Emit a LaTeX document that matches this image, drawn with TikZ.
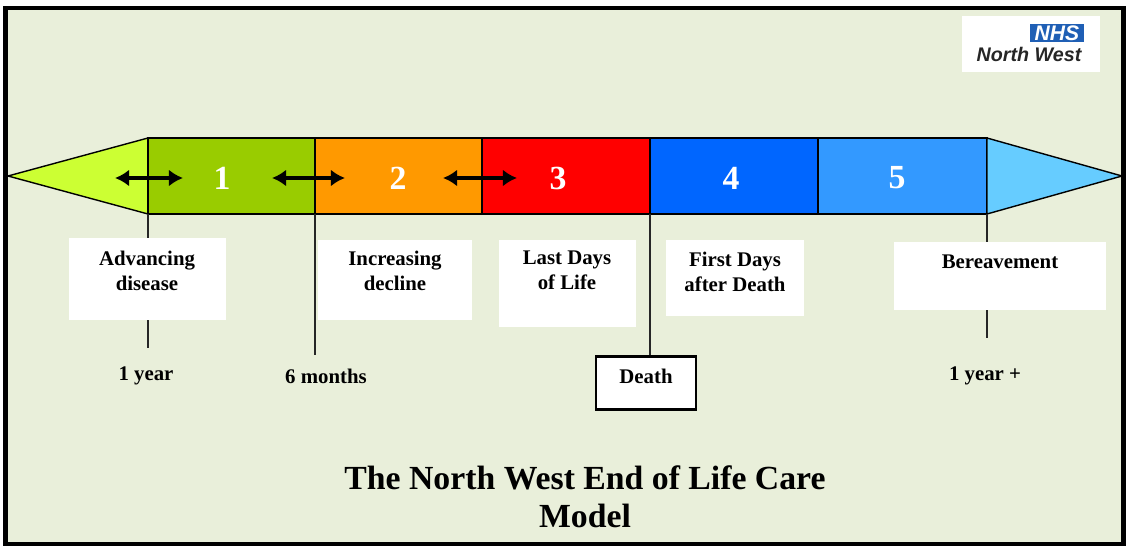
\documentclass[tikz,border=0pt]{standalone}
\usepackage{fontspec}
\setmainfont{Liberation Serif}
\newfontfamily\logofont{Liberation Sans}
\usetikzlibrary{arrows.meta}

\definecolor{bgcol}{HTML}{E9EFDA}
\definecolor{tipleft}{HTML}{CCFF33}
\definecolor{phaseone}{HTML}{99CC00}
\definecolor{phasetwo}{HTML}{FF9900}
\definecolor{phasethree}{HTML}{FF0000}
\definecolor{phasefour}{HTML}{0066FF}
\definecolor{phasefive}{HTML}{3399FF}
\definecolor{tipright}{HTML}{66CCFF}
\definecolor{nhsblue}{HTML}{1F5FB5}

\tikzset{
  phasenum/.style={text=white,font=\fontsize{24}{24}\selectfont\bfseries},
  infobox/.style={fill=white,inner sep=0pt},
  infotext/.style={align=center,inner sep=0pt,font=\fontsize{14.8}{17.8}\selectfont\bfseries},
  stem/.style={line width=1.2pt,black!85},
  phasearrow/.style={{Latex[length=10pt,width=12pt]}-{Latex[length=10pt,width=12pt]},line width=2.5pt},
}

\begin{document}
\begin{tikzpicture}[x=0.025cm,y=-0.025cm]
    \useasboundingbox (0,0) rectangle (1126,550);
    \fill[white] (0,0) rectangle (1126,550);
    \filldraw[fill=bgcol,line width=3pt] (5.5,8) rectangle (1123.5,544);

    % logo
    \node[fill=white,minimum width=3.45cm,minimum height=1.4cm] (logo) at (1031,44) {};
    \node[fill=nhsblue,text=white,inner sep=0pt,minimum width=1.35cm,minimum height=0.45cm,
      font=\logofont\bfseries\itshape\fontsize{15}{15}\selectfont] (nhs) at (1057,33) {NHS};
    \node[inner sep=0pt,text=black!85,font=\logofont\bfseries\itshape\fontsize{14}{14}\selectfont]
      (nw) at (1029,54) {North West};

    % the band
    \filldraw[fill=tipleft,line width=1pt] (148,138) -- (8,176) -- (148,214) -- cycle;
    \filldraw[fill=phaseone,line width=1pt] (148,138) rectangle (315,214);
    \filldraw[fill=phasetwo,line width=1pt] (315,138) rectangle (482,214);
    \filldraw[fill=phasethree,line width=1pt] (482,138) rectangle (650,214);
    \filldraw[fill=phasefour,line width=1pt] (650,138) rectangle (818,214);
    \filldraw[fill=phasefive,line width=1pt] (818,138) rectangle (987,214);
    \filldraw[fill=tipright,line width=1pt] (987,138) -- (1122,176) -- (987,214) -- cycle;

    \node[phasenum] (n1) at (222,178) {1};
    \node[phasenum] (n2) at (398,178) {2};
    \node[phasenum] (n3) at (558,178) {3};
    \node[phasenum] (n4) at (731,178) {4};
    \node[phasenum] (n5) at (897,178) {5};

    \coordinate (a1l) at (115,178);
    \coordinate (a1r) at (183,178);
    \coordinate (a2l) at (272,178);
    \coordinate (a2r) at (345,178);
    \coordinate (a3l) at (443,178);
    \coordinate (a3r) at (517,178);
    \draw[phasearrow] (a1l) -- (a1r);
    \draw[phasearrow] (a2l) -- (a2r);
    \draw[phasearrow] (a3l) -- (a3r);

    % boxes under the band
    \node[infobox,minimum width=3.925cm,minimum height=2.05cm] (adv) at (147.5,279) {};
    \node[infobox,minimum width=3.85cm,minimum height=2cm] (inc) at (395,280) {};
    \node[infobox,minimum width=3.425cm,minimum height=2.175cm] (last) at (567.5,283.5) {};
    \node[infobox,minimum width=3.45cm,minimum height=1.9cm] (first) at (735,278) {};
    \node[infobox,minimum width=5.3cm,minimum height=1.7cm] (ber) at (1000,276) {};

    \node[infotext] (advtext) at (147,270.5) {Advancing\\disease};
    \node[infotext] (inctext) at (395,270.5) {Increasing\\decline};
    \node[infotext] (lasttext) at (567,270.5) {Last Days\\of Life};
    \node[infotext] (firsttext) at (735,272) {First Days\\after Death};
    \node[infotext] (bertext) at (1000,262) {Bereavement};

    \node[draw,fill=white,line width=1.8pt,minimum width=2.5cm,minimum height=1.33cm] (death) at (646,383) {};
    \node[infotext] (deathtext) at (646,376) {Death};

    % stems
    \coordinate (b1) at (148,214);
    \coordinate (b2) at (315,214);
    \coordinate (b3) at (650,214);
    \coordinate (b5) at (987,214);
    \coordinate (e1) at (148,348);
    \coordinate (e2) at (315,355);
    \coordinate (e5) at (987,338);
    \draw[stem] (b1) -- (b1 |- adv.north);
    \draw[stem] (b1 |- adv.south) -- (e1);
    \draw[stem] (b2) -- (e2);
    \draw[stem] (b3) -- (b3 |- death.north);
    \draw[stem] (b5) -- (b5 |- ber.north);
    \draw[stem] (b5 |- ber.south) -- (e5);

    \node[infotext] (oneyear) at (146,376) {1 year};
    \node[infotext] (sixmonths) at (326,376) {6 months};
    \node[infotext] (oneyearplus) at (985,376) {1 year +};

    \node[align=center,font=\fontsize{24}{27}\selectfont\bfseries] (title) at (585,497)
      {The North West End of Life Care\\Model};
  \end{tikzpicture}
\end{document}
